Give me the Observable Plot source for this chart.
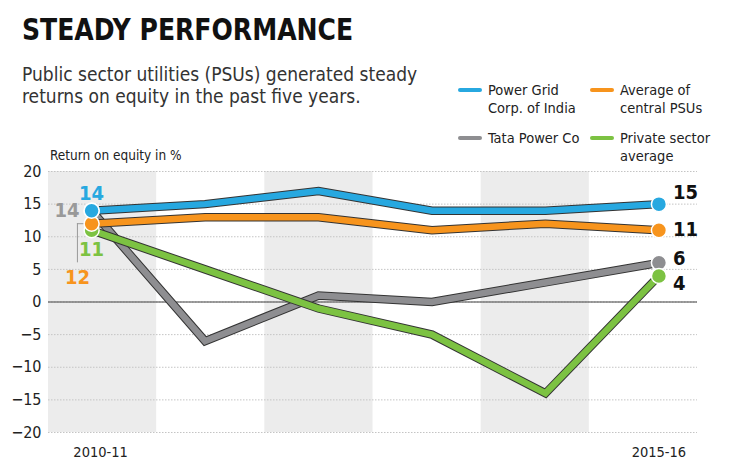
<!DOCTYPE html>
<html><head><meta charset="utf-8">
<script src="https://cdn.jsdelivr.net/npm/d3@7"></script>
<script src="https://cdn.jsdelivr.net/npm/@observablehq/plot@0.6"></script>
<style>
body{margin:0;background:#fff;}
#wrap{position:relative;width:742px;height:462px;overflow:hidden;background:#fff;font-family:"DejaVu Sans Condensed","Liberation Sans Narrow",sans-serif;color:#222;}
.abs{position:absolute;white-space:nowrap;}
#title{left:22px;top:11px;font-size:31px;font-weight:bold;color:#111;transform:scaleX(0.9);transform-origin:0 0;}
.sub{left:22px;font-size:19px;color:#333;}
.leg{font-size:14.5px;color:#222;line-height:18px;}
.sw{position:absolute;width:24px;height:4px;border-radius:2px;}
#ylab{left:50px;top:147px;font-size:13.5px;color:#222;z-index:2;}
#chart{position:absolute;left:0;top:145px;}
</style></head>
<body>
<div id="wrap">
  <div id="title" class="abs">STEADY PERFORMANCE</div>
  <div class="abs sub" style="top:63px">Public sector utilities (PSUs) generated steady</div>
  <div class="abs sub" style="top:85px">returns on equity in the past five years.</div>
  <div id="legend"></div>
  <div id="ylab" class="abs">Return on equity in %</div>
  <div id="chart"></div>
</div>
<script>
const years = ["2010-11","2011-12","2012-13","2013-14","2014-15","2015-16"];
const powerGrid   = [14, 15, 17, 14, 14, 15];
const centralPSUs = [12, 13, 13, 11, 12, 11];
const tataPower   = [14, -6, 1, 0, 3, 6];
const privateAvg  = [11, 5, -1, -5, -14, 4];
const yTicks = [-20, -15, -10, -5, 0, 5, 10, 15, 20];
const xTickLabels = ["2010-11", "2015-16"];

const series = [
  {name: "Tata Power Co", values: tataPower, color: "#8e8e91"},
  {name: "Private sector average", values: privateAvg, color: "#7cc242"},
  {name: "Average of central PSUs", values: centralPSUs, color: "#f7941d"},
  {name: "Power Grid Corp. of India", values: powerGrid, color: "#27a8e0"}
];

// legend
const legendItems = [
  {lines: ["Power Grid", "Corp. of India"], color: "#27a8e0", left: 458, top: 81},
  {lines: ["Average of", "central PSUs"], color: "#f7941d", left: 590, top: 81},
  {lines: ["Tata Power Co"], color: "#8e8e91", left: 458, top: 129},
  {lines: ["Private sector", "average"], color: "#7cc242", left: 590, top: 129}
];
const legend = document.getElementById("legend");
for (const it of legendItems) {
  const sw = document.createElement("div");
  sw.className = "sw";
  sw.style.left = it.left + "px";
  sw.style.top = (it.top + 7) + "px";
  sw.style.background = it.color;
  legend.appendChild(sw);
  const t = document.createElement("div");
  t.className = "abs leg";
  t.style.left = (it.left + 30) + "px";
  t.style.top = it.top + "px";
  t.style.zIndex = 2;
  t.innerHTML = it.lines.join("<br>");
  legend.appendChild(t);
}

const xDomain = [-0.38, 5.34];
const bw = (xDomain[1] - xDomain[0]) / 6;
const bands = [0, 2, 4];
const last = years.length - 1;

const lineMarks = series.flatMap(s => {
  const d = s.values.map((v, i) => ({i, v}));
  return [
    Plot.line(d, {x: "i", y: "v", stroke: "#333", strokeWidth: 8.5, strokeLinejoin: "miter", strokeMiterlimit: 4}),
    Plot.line(d, {x: "i", y: "v", stroke: s.color, strokeWidth: 6.5, strokeLinejoin: "miter", strokeMiterlimit: 4})
  ];
});
const dotMarks = series.map(s =>
  Plot.dot([0, last], {x: d => d, y: d => s.values[d], r: 7.5, fill: s.color, stroke: "white", strokeWidth: 1.5})
);
const endOffsets = {"Power Grid Corp. of India": -12, "Average of central PSUs": -1, "Tata Power Co": -4, "Private sector average": 8};
const endLabels = series.map(s =>
  Plot.text([last], {x: d => d, y: d => s.values[d], text: d => String(s.values[d]), dx: 14, dy: endOffsets[s.name],
    textAnchor: "start", fontWeight: "bold", fontSize: 20, fill: "#111"})
);

const chart = Plot.plot({
  width: 742, height: 317,
  marginTop: 26, marginBottom: 30, marginLeft: 48, marginRight: 45,
  x: {domain: xDomain, axis: null},
  y: {domain: [-20, 20], axis: null},
  style: {fontFamily: '"DejaVu Sans Condensed","Liberation Sans Narrow",sans-serif', background: "transparent", color: "#222"},
  marks: [
    Plot.rect(bands, {x1: b => xDomain[0] + b * bw, x2: b => xDomain[0] + (b + 1) * bw, y1: -20, y2: 20, fill: "#ececec"}),
    Plot.ruleY(yTicks, {stroke: "#c4c4c4", strokeDasharray: "1.5,1.5", strokeWidth: 1}),
    Plot.ruleY([0], {stroke: "#444", strokeWidth: 1}),
    Plot.axisY(yTicks, {tickSize: 0, tickPadding: 7, fontSize: 16, fill: "#222", label: null}),
    Plot.text([0], {x: d => d, text: d => xTickLabels[0], frameAnchor: "bottom", lineAnchor: "top", dy: 14, dx: 9, fontSize: 14.5, fill: "#222"}),
    Plot.text([last], {x: d => d, text: d => xTickLabels[1], frameAnchor: "bottom", lineAnchor: "top", dy: 14, fontSize: 14.5, fill: "#222"}),
    // leader line for the orange label
    Plot.ruleY([centralPSUs[0]], {x1: -0.125, x2: 0, stroke: "#999", strokeWidth: 1}),
    Plot.ruleX([-0.125], {y1: centralPSUs[0], y2: centralPSUs[0] - 6, stroke: "#999", strokeWidth: 1}),
    ...lineMarks,
    ...dotMarks,
    Plot.text([0], {x: d => d, y: powerGrid[0], text: d => String(powerGrid[0]), dy: -17, fontWeight: "bold", fontSize: 20, fill: "#27a8e0"}),
    Plot.text([0], {x: d => d, y: tataPower[0], text: d => String(tataPower[0]), dx: -12, dy: 0, textAnchor: "end", fontWeight: "bold", fontSize: 20, fill: "#999"}),
    Plot.text([0], {x: d => d, y: privateAvg[0], text: d => String(privateAvg[0]), dy: 19, fontWeight: "bold", fontSize: 20, fill: "#7cc242"}),
    Plot.text([-0.125], {x: d => d, y: centralPSUs[0] - 6, text: d => String(centralPSUs[0]), dy: 15, fontWeight: "bold", fontSize: 20, fill: "#f7941d"}),
    ...endLabels
  ]
});
document.getElementById("chart").appendChild(chart);
</script>
</body></html>
